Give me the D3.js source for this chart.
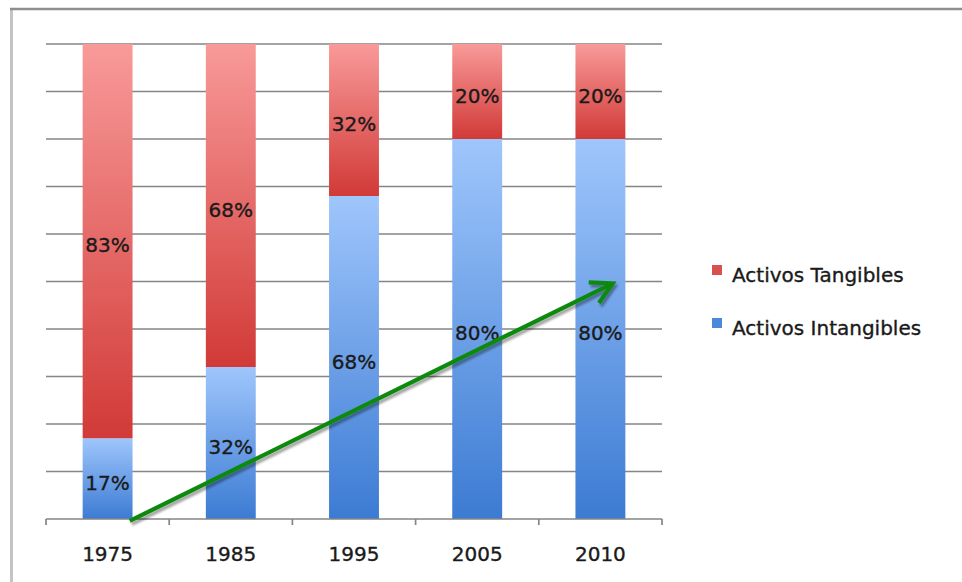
<!DOCTYPE html>
<html>
<head>
<meta charset="utf-8">
<script src="https://cdn.jsdelivr.net/npm/d3@7"></script>
<style>
  html, body { margin: 0; padding: 0; background: #fff; }
  svg { display: block; }
  text { font-family: "DejaVu Sans", Verdana, sans-serif; fill: #1a1a1a; stroke: #1a1a1a; stroke-width: 0.35px; }
</style>
</head>
<body>
<svg id="chart" width="962" height="582"></svg>
<script>
// Share of company assets, by year
const years = ["1975", "1985", "1995", "2005", "2010"];
const intangibles = [17, 32, 68, 80, 80];
const tangibles = [83, 68, 32, 20, 20];
const seriesNames = ["Activos Tangibles", "Activos Intangibles"];
const yTicks = [0, 10, 20, 30, 40, 50, 60, 70, 80, 90, 100];

// Trend arrow: from the foot of 1975 up to the middle of 2010
const trendFrom = { year: "1975", pos: 0.68, value: -0.4 };
const trendTo = { year: "2010", pos: 0.6, value: 49.6 };

const svg = d3.select("#chart");
const W = 962, H = 582;
const plot = { left: 46, right: 662, top: 44, bottom: 519 };

const x = d3.scaleBand().domain(years).range([plot.left, plot.right]).padding(0);
const y = d3.scaleLinear().domain([0, 100]).range([plot.bottom, plot.top]);
const barW = x.bandwidth() * 0.405;

const defs = svg.append("defs");
function vGrad(id, top, bottom) {
  const g = defs.append("linearGradient").attr("id", id)
    .attr("x1", 0).attr("y1", 0).attr("x2", 0).attr("y2", 1);
  g.append("stop").attr("offset", "0%").attr("stop-color", top);
  g.append("stop").attr("offset", "100%").attr("stop-color", bottom);
}
vGrad("gRed", "#f89a99", "#d13a37");
vGrad("gBlue", "#9fc6fc", "#3c7bd3");

const shadow = defs.append("filter").attr("id", "arrowShadow")
  .attr("x", "-10%").attr("y", "-10%").attr("width", "130%").attr("height", "130%");
shadow.append("feGaussianBlur").attr("in", "SourceAlpha").attr("stdDeviation", 1.2).attr("result", "b");
shadow.append("feOffset").attr("in", "b").attr("dx", 2).attr("dy", 3).attr("result", "o");
shadow.append("feComponentTransfer").attr("in", "o").attr("result", "s")
  .append("feFuncA").attr("type", "linear").attr("slope", 0.35);
const fm = shadow.append("feMerge");
fm.append("feMergeNode").attr("in", "s");
fm.append("feMergeNode").attr("in", "SourceGraphic");

// Frame
svg.append("line").attr("x1", 11.5).attr("x2", 11.5).attr("y1", 8).attr("y2", H)
  .attr("stroke", "#c4c4c4").attr("stroke-width", 3);
svg.append("line").attr("x1", 10).attr("x2", W).attr("y1", 9).attr("y2", 9)
  .attr("stroke", "#8e8e8e").attr("stroke-width", 2.5);

// Gridlines
svg.append("g").selectAll("line").data(yTicks.slice(1)).join("line")
  .attr("x1", plot.left).attr("x2", plot.right)
  .attr("y1", d => y(d)).attr("y2", d => y(d))
  .attr("stroke", "#858585").attr("stroke-width", 1.7);

// Stacked bars
const rows = years.map((yr, i) => ({ year: yr, intang: intangibles[i], tang: tangibles[i] }));
const bars = svg.append("g");
bars.selectAll("rect.blue").data(rows).join("rect").attr("class", "blue")
  .attr("x", d => x(d.year) + x.bandwidth() / 2 - barW / 2)
  .attr("width", barW)
  .attr("y", d => y(d.intang))
  .attr("height", d => y(0) - y(d.intang))
  .attr("fill", "url(#gBlue)");
bars.selectAll("rect.red").data(rows).join("rect").attr("class", "red")
  .attr("x", d => x(d.year) + x.bandwidth() / 2 - barW / 2)
  .attr("width", barW)
  .attr("y", d => y(d.intang + d.tang))
  .attr("height", d => y(d.intang) - y(d.intang + d.tang))
  .attr("fill", "url(#gRed)");

// Value labels
const labels = svg.append("g").attr("font-size", 20).attr("text-anchor", "middle");
labels.selectAll("text.bl").data(rows).join("text").attr("class", "bl")
  .attr("x", d => x(d.year) + x.bandwidth() / 2)
  .attr("y", d => y(d.intang / 2) + 11)
  .text(d => d.intang + "%");
labels.selectAll("text.rd").data(rows).join("text").attr("class", "rd")
  .attr("x", d => x(d.year) + x.bandwidth() / 2)
  .attr("y", d => y(d.intang + d.tang / 2) + 11)
  .text(d => d.tang + "%");

// Category axis: baseline, boundary ticks, year labels
const axis = svg.append("g");
axis.append("line").attr("x1", plot.left).attr("x2", plot.right)
  .attr("y1", y(0)).attr("y2", y(0)).attr("stroke", "#858585").attr("stroke-width", 1.7);
const bounds = years.map(d => x(d)).concat([x(years[years.length - 1]) + x.bandwidth()]);
axis.selectAll("line.tk").data(bounds).join("line").attr("class", "tk")
  .attr("x1", d => d).attr("x2", d => d)
  .attr("y1", y(0)).attr("y2", y(0) + 6)
  .attr("stroke", "#858585").attr("stroke-width", 1.7);
axis.selectAll("text").data(years).join("text")
  .attr("x", d => x(d) + x.bandwidth() / 2)
  .attr("y", y(0) + 42)
  .attr("text-anchor", "middle").attr("font-size", 20)
  .text(d => d);

// Trend arrow
const ax1 = x(trendFrom.year) + x.bandwidth() * trendFrom.pos, ay1 = y(trendFrom.value);
const ax2 = x(trendTo.year) + x.bandwidth() * trendTo.pos, ay2 = y(trendTo.value);
const ang = Math.atan2(ay2 - ay1, ax2 - ax1);
const headLen = 24, headSpread = 0.5;
const arrow = svg.append("g").attr("filter", "url(#arrowShadow)")
  .attr("stroke", "#10890f").attr("stroke-width", 4.2).attr("fill", "none")
  .attr("stroke-linecap", "butt").attr("stroke-linejoin", "miter");
arrow.append("line").attr("x1", ax1).attr("y1", ay1).attr("x2", ax2 - 2 * Math.cos(ang)).attr("y2", ay2 - 2 * Math.sin(ang));
arrow.append("path").attr("d", d3.line()([
  [ax2 - headLen * Math.cos(ang - headSpread), ay2 - headLen * Math.sin(ang - headSpread)],
  [ax2, ay2],
  [ax2 - headLen * Math.cos(ang + headSpread), ay2 - headLen * Math.sin(ang + headSpread)]
]));

// Legend
const legend = svg.append("g").attr("transform", "translate(712,0)");
const legendColors = ["#d9514f", "#4a88dc"];
const legendY = [275, 328];
seriesNames.forEach((name, i) => {
  legend.append("rect").attr("x", 0).attr("y", legendY[i] - 10).attr("width", 10).attr("height", 10)
    .attr("fill", legendColors[i]).attr("stroke", "none");
  legend.append("text").attr("x", 20).attr("y", legendY[i] + 7).attr("font-size", 20).text(name);
});
</script>
</body>
</html>
